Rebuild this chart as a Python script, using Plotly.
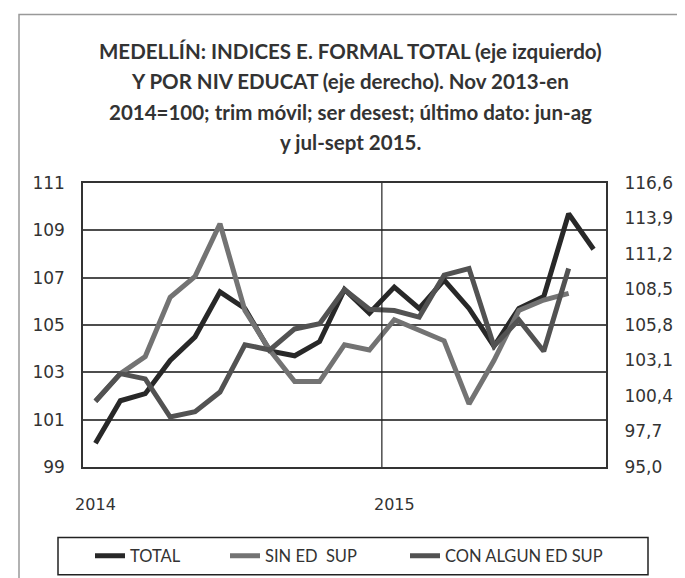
import plotly.graph_objects as go

# ---- data ----
months = ["2014-01", "2014-02", "2014-03", "2014-04", "2014-05", "2014-06",
          "2014-07", "2014-08", "2014-09", "2014-10", "2014-11", "2014-12",
          "2015-01", "2015-02", "2015-03", "2015-04", "2015-05", "2015-06",
          "2015-07", "2015-08", "2015-09"]
total = [100.0, 101.8, 102.1, 103.5, 104.5, 106.4, 105.7, 103.9, 103.7, 104.3,
         106.5, 105.5, 106.6, 105.7, 106.9, 105.7, 104.1, 105.7, 106.2, 109.7, 108.2]
sin_ed_sup = [100.0, 102.1, 103.4, 107.9, 109.5, 113.5, 106.9, 103.9, 101.5, 101.5,
              104.3, 103.9, 106.2, 105.4, 104.6, 99.8, 103.1, 106.9, 107.7, 108.2]
con_ed_sup = [100.0, 102.1, 101.7, 98.8, 99.2, 100.7, 104.3, 103.9, 105.5, 105.9,
              108.5, 107.0, 106.9, 106.4, 109.6, 110.1, 104.2, 106.2, 103.8, 110.1]

x_tickvals = ["2014-01", "2015-01"]
x_ticktext = ["2014", "2015"]
left_ticks = [99, 101, 103, 105, 107, 109, 111]
right_ticks = [95.0, 97.7, 100.4, 103.1, 105.8, 108.5, 111.2, 113.9, 116.6]
right_labels = ["95,0", "97,7", "100,4", "103,1", "105,8", "108,5", "111,2", "113,9", "116,6"]

title_lines = ["MEDELLÍN: INDICES E. FORMAL TOTAL (eje izquierdo)",
               "Y POR NIV EDUCAT (eje derecho). Nov 2013-en",
               "2014=100; trim móvil; ser desest; último dato: jun-ag",
               "y jul-sept 2015."]
title_y_px = [40, 71, 102, 133]

TICK_FONT = dict(family="DejaVu Sans", size=17, color="#333333")
HUMAN = "Lato, Open Sans, sans-serif"

PLOT_TOP, PLOT_BOT, PLOT_L, PLOT_R = 175, 465, 75, 598
PW, PH = PLOT_R - PLOT_L, PLOT_BOT - PLOT_TOP


def px_x(px):
    return (px - PLOT_L) / PW


def px_y(py):
    return (PLOT_BOT - py) / PH


fig = go.Figure()
fig.add_trace(go.Scatter(x=months, y=total, name="TOTAL", mode="lines",
                         line=dict(color="#282828", width=5), yaxis="y",
                         legend="legend"))
fig.add_trace(go.Scatter(x=months[:len(sin_ed_sup)], y=sin_ed_sup, name="SIN ED  SUP",
                         mode="lines", line=dict(color="#737373", width=5), yaxis="y2",
                         legend="legend2"))
fig.add_trace(go.Scatter(x=months[:len(con_ed_sup)], y=con_ed_sup, name="CON ALGUN ED SUP",
                         mode="lines", line=dict(color="#525252", width=5), yaxis="y2",
                         legend="legend3"))

LEG_FONT = dict(family=HUMAN, size=16.5, color="#333333")
LEG_Y = px_y(556)


def leg(xpx):
    return dict(orientation="h", x=px_x(xpx), xanchor="left", y=LEG_Y, yanchor="middle",
                borderwidth=0, bgcolor="rgba(0,0,0,0)", font=LEG_FONT)


fig.update_layout(
    width=685, height=578,
    margin=dict(l=PLOT_L, r=685 - PLOT_R, t=PLOT_TOP, b=578 - PLOT_BOT),
    paper_bgcolor="white", plot_bgcolor="white",
    showlegend=True,
    legend=leg(82), legend2=leg(217), legend3=leg(397),
    xaxis=dict(type="category", categoryorder="array", categoryarray=months,
               range=[-0.5, len(months) - 0.5],
               tickvals=x_tickvals, ticktext=x_ticktext, tickangle=0,
               showgrid=False,
               ticks="outside", ticklen=22, tickcolor="rgba(0,0,0,0)",
               tickfont=dict(family="DejaVu Sans", size=16, color="#333333"),
               showline=True, mirror=True, linecolor="#333333", linewidth=1.5,
               zeroline=False),
    yaxis=dict(range=[99, 111], tickvals=left_ticks, showgrid=True,
               gridcolor="#4d4d4d", gridwidth=1.6,
               ticks="outside", ticklen=13, tickcolor="rgba(0,0,0,0)",
               tickfont=TICK_FONT,
               showline=True, mirror=True, linecolor="#333333", linewidth=1.5,
               zeroline=False),
    yaxis2=dict(range=[95, 116.6], overlaying="y", side="right",
                tickvals=right_ticks, ticktext=right_labels, showgrid=False,
                ticks="outside", ticklen=14, tickcolor="rgba(0,0,0,0)",
                tickfont=TICK_FONT, zeroline=False, showline=False),
)

# title lines as separate annotations (to match line spacing)
for line, ypx in zip(title_lines, title_y_px):
    fig.add_annotation(text="<b>" + line + "</b>", xref="paper", yref="paper",
                       x=px_x(342), y=px_y(ypx),
                       xanchor="center", yanchor="middle", showarrow=False,
                       font=dict(family=HUMAN, size=20.5, color="#333333"))

# year separator line between Dec 2014 and Jan 2015
fig.add_shape(type="line", xref="x", yref="paper", x0=11.5, x1=11.5, y0=0, y1=1,
              line=dict(color="#222222", width=1.2))

# legend frame
fig.add_shape(type="rect", xref="paper", yref="paper",
              x0=px_x(50), x1=px_x(640), y0=px_y(575), y1=px_y(537),
              line=dict(color="#222222", width=1.5), fillcolor="rgba(0,0,0,0)")

# outer frame of the picture
fig.add_shape(type="rect", xref="paper", yref="paper",
              x0=px_x(11), x1=px_x(671), y0=px_y(585), y1=px_y(3),
              line=dict(color="#999999", width=1.5), fillcolor="rgba(0,0,0,0)",
              layer="below")

fig.write_html("out.html")
